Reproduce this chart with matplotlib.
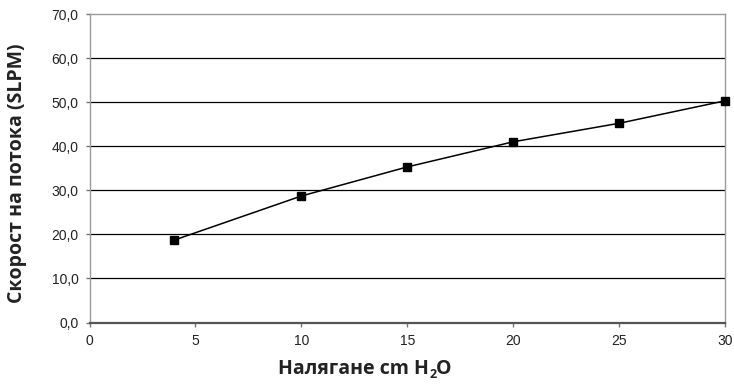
import matplotlib
matplotlib.use("Agg")
import matplotlib.pyplot as plt
from matplotlib.ticker import FuncFormatter
from matplotlib import font_manager as fm

pressure = [4, 10, 15, 20, 25, 30]
flow = [18.7, 28.7, 35.3, 41.0, 45.2, 50.3]
x_ticks = [0, 5, 10, 15, 20, 25, 30]
y_ticks = [0, 10, 20, 30, 40, 50, 60, 70]
x_label_main = "Налягане cm H"
x_label_sub = "2"
x_label_end = "O"
y_label = "Скорост на потока (SLPM)"


def pick(name, weight):
    best = None
    for f in fm.fontManager.ttflist:
        if f.name == name and f.style == 'normal':
            w = f.weight if isinstance(f.weight, int) else 400
            st = f.stretch if isinstance(f.stretch, int) else 500
            fn = f.fname.lower()
            if 'narrow' in fn or 'condensed' in fn:
                continue
            score = abs(w - weight) + abs(st - 500)
            if best is None or score < best[0]:
                best = (score, f.fname)
    return best[1] if best else None

tick_file = pick('Liberation Sans', 400)
lab_file = pick('Open Sans', 700)
tick_fp = fm.FontProperties(fname=tick_file, size=10) if tick_file else fm.FontProperties(family='DejaVu Sans', size=10)
lab_fp = fm.FontProperties(fname=lab_file, size=14) if lab_file else fm.FontProperties(family='DejaVu Sans', weight='bold', size=14)
sub_fp = fm.FontProperties(fname=lab_file, size=9) if lab_file else fm.FontProperties(family='DejaVu Sans', weight='bold', size=9)

fig = plt.figure(figsize=(7.34, 3.89), dpi=100)
ax = fig.add_axes([89.5/734, 1-322.5/389, (725-89.5)/734, (322.5-14)/389])

ax.plot(pressure, flow, color='black', lw=1.1, marker='s', ms=6, mfc='black', mec='black', clip_on=False, zorder=3)

ax.set_xlim(0, 30)
ax.set_ylim(0, 70)
ax.set_xticks(x_ticks)
ax.set_yticks(y_ticks)
ax.yaxis.set_major_formatter(FuncFormatter(lambda v, p: f"{v:.1f}".replace('.', ',')))
ax.xaxis.set_major_formatter(FuncFormatter(lambda v, p: f"{int(v)}"))

for y in y_ticks[1:-1]:
    ax.axhline(y, color='black', lw=0.9, zorder=1)

for s in ['left', 'right', 'top']:
    ax.spines[s].set_color('#9a9a9a')
    ax.spines[s].set_linewidth(1.0)
ax.spines['bottom'].set_color('#555555')
ax.spines['bottom'].set_linewidth(1.6)

ax.tick_params(axis='both', direction='out', length=3, width=1, color='#777777',
               labelcolor='#222222')
ax.tick_params(axis='y', pad=5)
ax.tick_params(axis='x', pad=5)
for lbl in ax.get_xticklabels() + ax.get_yticklabels():
    lbl.set_fontproperties(tick_fp)

fig.text(17.5/734, 1-173/389, y_label, rotation=90, ha='center', va='center',
         fontproperties=lab_fp, color='#222222')

# x label composed of pieces for the subscript
fig.canvas.draw()
r = fig.canvas.get_renderer()
t1 = fig.text(0, 0, x_label_main, fontproperties=lab_fp, color='#222222', va='baseline')
t2 = fig.text(0, 0, x_label_sub, fontproperties=sub_fp, color='#222222', va='baseline')
t3 = fig.text(0, 0, x_label_end, fontproperties=lab_fp, color='#222222', va='baseline')
w1 = t1.get_window_extent(r).width
w2 = t2.get_window_extent(r).width
w3 = t3.get_window_extent(r).width
total = w1 + w2 + w3
x0 = 365 - total / 2
base = 389 - 374
t1.set_position((x0 / 734, base / 389))
t2.set_position(((x0 + w1) / 734, (base - 4) / 389))
t3.set_position(((x0 + w1 + w2) / 734, base / 389))

fig.savefig('out.png', dpi=100)
